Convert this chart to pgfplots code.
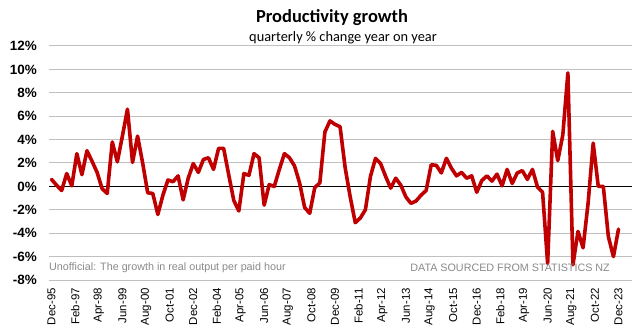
\documentclass[border=0pt]{standalone}
\usepackage{fontspec}
\setmainfont{Liberation Sans}
\newfontfamily\calibri{Carlito}
\usepackage{pgfplots}
\usepackage{pgfplotstable}
\pgfplotsset{compat=1.18}
\definecolor{linered}{RGB}{192,0,0}
\definecolor{gridgray}{RGB}{192,192,192}
\definecolor{notegray}{RGB}{137,137,137}
\pgfplotstableread{
m v
0 0.6
3 0.1
6 -0.35
9 1.1
12 0.05
15 2.8
18 1.0
21 3.05
24 2.15
27 1.2
30 -0.2
33 -0.6
36 3.8
39 2.1
42 4.3
45 6.6
48 2.05
51 4.3
54 2.0
57 -0.55
60 -0.6
63 -2.4
66 -0.75
69 0.55
72 0.4
75 0.9
78 -1.15
81 0.7
84 1.95
87 1.2
90 2.3
93 2.45
96 1.45
99 3.25
102 3.25
105 1.0
108 -1.2
111 -2.1
114 1.1
117 0.95
120 2.8
123 2.45
126 -1.6
129 0.15
132 0.0
135 1.45
138 2.8
141 2.45
144 1.75
147 0.3
150 -1.8
153 -2.3
156 -0.1
159 0.3
162 4.65
165 5.6
168 5.3
171 5.1
174 1.6
177 -0.9
180 -3.1
183 -2.7
186 -2.0
189 0.85
192 2.4
195 1.95
198 0.85
201 -0.15
204 0.7
207 0.1
210 -0.9
213 -1.45
216 -1.25
219 -0.75
222 -0.35
225 1.85
228 1.8
231 1.15
234 2.4
237 1.55
240 0.9
243 1.2
246 0.7
249 0.9
252 -0.5
255 0.5
258 0.9
261 0.45
264 1.05
267 0.05
270 1.45
273 0.25
276 1.15
279 1.35
282 0.6
285 1.45
288 -0.05
291 -0.5
294 -6.6
297 4.7
300 2.2
303 4.4
306 9.7
309 -6.7
312 -3.85
315 -5.25
318 -1.4
321 3.7
324 0.0
327 0.0
330 -4.3
333 -6.0
336 -3.65
}\prodtable
\begin{document}
\begin{tikzpicture}
\useasboundingbox (0,0) rectangle (638bp,333bp);
\begin{axis}[
  at={(49bp,53bp)}, anchor=south west,
  scale only axis, width=583bp, height=234bp,
  xmin=-1.5, xmax=344, ymin=-8, ymax=12,
  ytick={-8,-6,...,12},
  yticklabels={-8\%,-6\%,-4\%,-2\%,0\%,2\%,4\%,6\%,8\%,10\%,12\%},
  xtick={0,14,...,336},
  xticklabels={Dec-95,Feb-97,Apr-98,Jun-99,Aug-00,Oct-01,Dec-02,Feb-04,Apr-05,Jun-06,Aug-07,Oct-08,Dec-09,Feb-11,Apr-12,Jun-13,Aug-14,Oct-15,Dec-16,Feb-18,Apr-19,Jun-20,Aug-21,Oct-22,Dec-23},
  xticklabel style={rotate=90, anchor=east, inner xsep=8bp, inner ysep=0pt, font=\fontsize{11.5}{12}\selectfont},
  yticklabel style={anchor=east, inner xsep=12bp, inner ysep=0pt, font=\bfseries\fontsize{13.5}{14}\selectfont},
  ymajorgrids, grid style={line width=1bp, color=gridgray},
  axis line style={draw=none}, major tick length=0pt,
  clip=false,
]
\addplot[black, line width=1bp] coordinates {(-1.5,0) (344,0)};
\addplot[linered, line width=3.6bp, line join=round, line cap=round] table[x=m, y=v] {\prodtable};
\end{axis}
\node[font=\calibri\bfseries\fontsize{18.5}{21}\selectfont] at (332bp,315bp) {Productivity growth};
\node[font=\calibri\fontsize{14.4}{16}\selectfont] at (343bp,295bp) {quarterly \% change year on year};
\node[anchor=west, inner sep=0pt, text=notegray, font=\fontsize{10.8}{13}\selectfont] at (49bp,65bp) {Unofficial: The growth in real output per paid hour};
\node[anchor=east, inner sep=0pt, text=notegray, font=\fontsize{10.8}{13}\selectfont] at (610bp,65bp) {DATA SOURCED FROM STATISTICS NZ};
\end{tikzpicture}
\end{document}
